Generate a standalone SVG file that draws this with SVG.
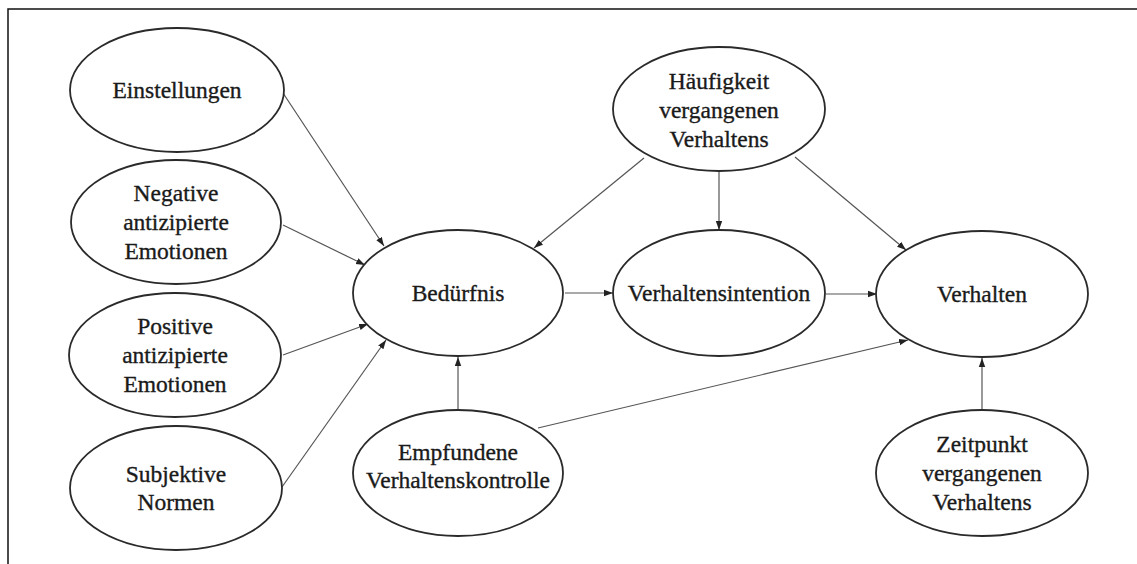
<svg xmlns="http://www.w3.org/2000/svg" width="1137" height="564" viewBox="0 0 1137 564">
<style>
.n ellipse{fill:#fff;stroke:#2a2a2a;stroke-width:1.8}
.n text{font-family:'Liberation Serif','Times New Roman',serif;font-size:23.5px;fill:#1a1a1a;stroke:#1a1a1a;stroke-width:0.35;text-anchor:middle}
.c line{stroke:#555;stroke-width:1.2;marker-end:url(#ah)}
</style>
<defs>
<marker id="ah" markerUnits="userSpaceOnUse" markerWidth="10" markerHeight="8" refX="9" refY="4" orient="auto">
<path d="M0,0.8 L9,4 L0,7.2 Z" fill="#222"/>
</marker>
</defs>
<rect x="0" y="0" width="1137" height="564" fill="#fff"/>
<path d="M8,564 L8,9 L1137,9" fill="none" stroke="#111" stroke-width="1.5"/>
<g class="c" id="connectors">
<line x1="283" y1="93" x2="384" y2="246"/>
<line x1="283" y1="225" x2="365" y2="265"/>
<line x1="283" y1="355" x2="368" y2="324"/>
<line x1="282" y1="487" x2="386" y2="340"/>
<line x1="644" y1="158" x2="534" y2="248"/>
<line x1="719" y1="172" x2="719" y2="230"/>
<line x1="795" y1="157" x2="906" y2="250"/>
<line x1="565" y1="293" x2="613" y2="293"/>
<line x1="826" y1="294" x2="877" y2="294"/>
<line x1="458" y1="410" x2="458" y2="357"/>
<line x1="538" y1="428" x2="908" y2="340"/>
<line x1="982" y1="410" x2="982" y2="358"/>
</g>
<g class="n" id="einstellungen"><ellipse cx="177" cy="90" rx="107" ry="62"/><text x="177" y="98">Einstellungen</text></g>
<g class="n" id="negative"><ellipse cx="176" cy="222" rx="105" ry="62"/><text x="176" y="201">Negative</text><text x="176" y="230">antizipierte</text><text x="176" y="259">Emotionen</text></g>
<g class="n" id="positive"><ellipse cx="175" cy="355" rx="106" ry="62"/><text x="175" y="334">Positive</text><text x="175" y="363">antizipierte</text><text x="175" y="392">Emotionen</text></g>
<g class="n" id="subjektive"><ellipse cx="176" cy="488" rx="106" ry="62"/><text x="176" y="482">Subjektive</text><text x="176" y="510">Normen</text></g>
<g class="n" id="beduerfnis"><ellipse cx="458" cy="293" rx="105" ry="63"/><text x="458" y="301">Bedürfnis</text></g>
<g class="n" id="haeufigkeit"><ellipse cx="719" cy="109" rx="106" ry="62"/><text x="719" y="89">Häufigkeit</text><text x="719" y="118">vergangenen</text><text x="719" y="147">Verhaltens</text></g>
<g class="n" id="intention"><ellipse cx="719" cy="293" rx="106" ry="63"/><text x="719" y="301">Verhaltensintention</text></g>
<g class="n" id="verhalten"><ellipse cx="982" cy="294" rx="106" ry="63"/><text x="982" y="302">Verhalten</text></g>
<g class="n" id="empfundene"><ellipse cx="458" cy="473" rx="105" ry="63"/><text x="458" y="460">Empfundene</text><text x="458" y="488">Verhaltenskontrolle</text></g>
<g class="n" id="zeitpunkt"><ellipse cx="982" cy="473" rx="106" ry="63"/><text x="982" y="452">Zeitpunkt</text><text x="982" y="481">vergangenen</text><text x="982" y="510">Verhaltens</text></g>
</svg>
